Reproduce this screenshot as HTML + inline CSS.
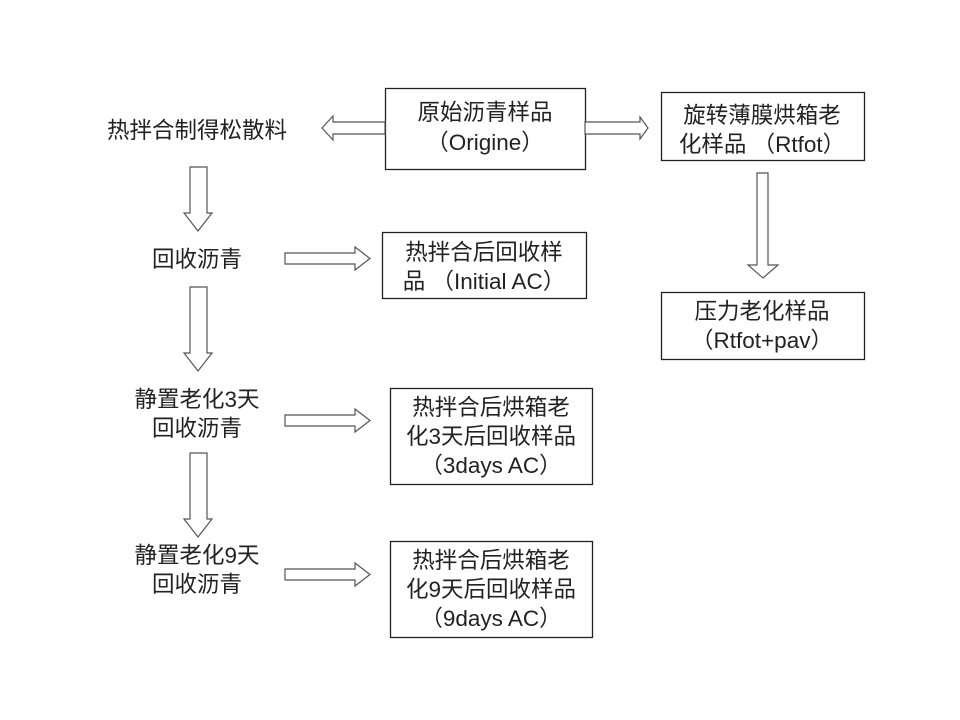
<!DOCTYPE html>
<html><head><meta charset="utf-8"><style>
html,body{margin:0;padding:0;background:#fff;}
svg{display:block;}
text{font-family:"Liberation Sans","Noto Sans CJK SC",sans-serif;font-size:22.5px;fill:#222;}
.l{font-size:21px;}
</style></head><body>
<svg width="960" height="720" viewBox="0 0 960 720" xmlns="http://www.w3.org/2000/svg">
<g fill="#fff" stroke="#222" stroke-width="1.3">
<rect x="385.5" y="88.5" width="200" height="81"/>
<rect x="661.5" y="92.5" width="203" height="68"/>
<rect x="382.5" y="232.5" width="204" height="66"/>
<rect x="661.5" y="292.5" width="203" height="67"/>
<rect x="390.5" y="388.5" width="202" height="96"/>
<rect x="390.5" y="541.5" width="202" height="96"/>
</g>
<g fill="#fff" stroke="#555" stroke-width="1.2">
<polygon points="385,122 333,122 333,116 322,128 333,140 333,134 385,134"/>
<polygon points="585,122 640,122 640,117 648,128 640,139 640,134 585,134"/>
<polygon points="190,167 207,167 207,213 212,213 198,231 184,213 190,213"/>
<polygon points="190,287 207,287 207,353 212,353 198,371 184,353 190,353"/>
<polygon points="190,453 207,453 207,519 212,519 198,537 184,519 190,519"/>
<polygon points="757,173 768,173 768,265 778,265 763,278 748,265 757,265"/>
<polygon points="285,253 355,253 355,247 370,258.5 355,270 355,264 285,264"/>
<polygon points="285,415 355,415 355,409 370,420.5 355,432 355,426 285,426"/>
<polygon points="285,569 355,569 355,563 370,574.5 355,586 355,580 285,580"/>
</g>
<g text-anchor="middle">
<text x="197" y="138">热拌合制得松散料</text>
<text x="197" y="267">回收沥青</text>
<text x="197" y="407">静置老化3天</text>
<text x="197" y="436">回收沥青</text>
<text x="197" y="563">静置老化9天</text>
<text x="197" y="592">回收沥青</text>
<text x="485" y="120">原始沥青样品</text>
<text x="485" y="150">（Origine）</text>
<text x="762" y="123">旋转薄膜烘箱老</text>
<text x="762" y="152">化样品 （Rtfot）</text>
<text x="484" y="260">热拌合后回收样</text>
<text x="484" y="289">品 （Initial AC）</text>
<text x="762" y="319">压力老化样品</text>
<text x="762" y="348">（Rtfot+pav）</text>
<text x="491" y="415">热拌合后烘箱老</text>
<text x="491" y="444">化3天后回收样品</text>
<text x="491" y="473">（3days AC）</text>
<text x="491" y="568">热拌合后烘箱老</text>
<text x="491" y="597">化9天后回收样品</text>
<text x="491" y="626">（9days AC）</text>
</g>
</svg>
</body></html>
